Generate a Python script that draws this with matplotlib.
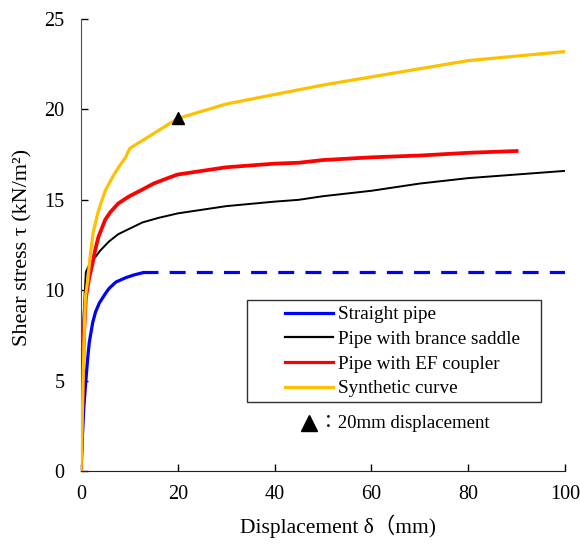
import matplotlib
matplotlib.use('Agg')
import matplotlib.pyplot as plt
from matplotlib.lines import Line2D
from matplotlib.patches import Rectangle

plt.rcParams['font.family'] = ['Liberation Serif', 'Noto Sans CJK JP']

# Straight pipe (measured part, then extrapolated dashed plateau)
straight_x = [0, 0.3, 0.6, 1.0, 1.4, 1.7, 2.4, 3.0, 3.8, 5.0, 5.8, 7.2, 9.3, 11.0, 12.5]
straight_y = [0, 2.0, 3.6, 5.0, 6.3, 7.1, 8.2, 8.8, 9.3, 9.8, 10.1, 10.45, 10.7, 10.85, 10.95]
straight_ext_x = [12.5, 100]
straight_ext_y = [11.0, 11.0]

# Pipe with brance saddle
saddle_x = [0, 0.2, 0.5, 1.0, 1.5, 2.0, 3.0, 4.0, 5.8, 7.7, 10, 12.7, 16, 20, 25, 30, 40, 45, 50,
            60, 70, 80, 90, 100]
saddle_y = [0, 4.0, 8.5, 11.0, 11.3, 11.55, 11.85, 12.2, 12.7, 13.1, 13.4, 13.75, 14.0, 14.25, 14.45,
            14.65, 14.9, 15.0, 15.2, 15.5, 15.9, 16.2, 16.4, 16.6]

# Pipe with EF coupler
ef_x = [0, 0.3, 0.6, 1.0, 1.7, 2.4, 2.9, 3.6, 5.0, 6.0, 7.7, 10, 12.2, 15, 18.4, 20, 25, 30, 40, 45,
        50, 60, 70, 80, 90]
ef_y = [0, 4.0, 7.5, 9.6, 10.7, 11.5, 12.2, 12.95, 13.9, 14.3, 14.8, 15.2, 15.5, 15.9, 16.25, 16.4,
        16.6, 16.8, 17.0, 17.05, 17.2, 17.35, 17.45, 17.6, 17.7]

# Synthetic curve
syn_x = [0, 0.3, 0.6, 0.9, 1.4, 1.9, 2.5, 3.6, 5.0, 6.6, 8.0, 9.1, 10.1, 20, 30, 50, 80, 100]
syn_y = [0, 3.5, 7.0, 9.6, 10.6, 11.9, 13.2, 14.4, 15.5, 16.3, 16.9, 17.3, 17.85, 19.5, 20.3, 21.35,
         22.7, 23.2]

# 20mm displacement marker
mark_x = [20]
mark_y = [19.5]

labels = ['Straight pipe', 'Pipe with brance saddle', 'Pipe with EF coupler', 'Synthetic curve']
colors = ['#0000ff', '#000000', '#ff0000', '#ffc000']

fig = plt.figure(figsize=(5.8, 5.48), dpi=100)
ax = fig.add_axes([0.1397, 0.1405, 0.8345, 0.8248])

ax.plot(straight_x, straight_y, color=colors[0], lw=2.3, zorder=3)
ax.plot(straight_ext_x, straight_ext_y, color=colors[0], lw=2.3, dashes=(5, 3.5), zorder=3)
ax.plot(saddle_x, saddle_y, color=colors[1], lw=1.4, zorder=3)
ax.plot(ef_x, ef_y, color=colors[2], lw=2.7, zorder=3)
ax.plot(syn_x, syn_y, color=colors[3], lw=2.3, zorder=4)
ax.plot(mark_x, mark_y, linestyle='None', marker='^', color='black', markersize=8, zorder=5)

ax.set_xlim(0, 100)
ax.set_ylim(0, 25)
ax.set_xticks([0, 20, 40, 60, 80, 100])
ax.set_yticks([0, 5, 10, 15, 20, 25])

for side in ['top', 'right']:
    ax.spines[side].set_visible(False)
ax.spines['left'].set_color('#505050')
ax.spines['bottom'].set_color('#202020')
ax.tick_params(direction='in', length=5, width=1, labelsize=14.5)
ax.tick_params(axis='y', pad=12)
ax.tick_params(axis='x', pad=10)

ax.set_xlabel('Displacement δ（mm)', fontsize=15.5, va='center')
ax.xaxis.set_label_coords(0.531, -0.122)
ax.set_ylabel('Shear stress τ (kN/m²)', fontsize=16, va='center')
ax.yaxis.set_label_coords(-0.12, 0.4956)

# legend box drawn separately, legend itself without frame
ax.add_patch(Rectangle((0.343, 0.153), 0.607, 0.225, transform=ax.transAxes,
                       facecolor='white', edgecolor='#303030', lw=1.0, zorder=6))
handles = [Line2D([], [], color=c, lw=2.3) for c in colors]
handles[1] = Line2D([], [], color=colors[1], lw=1.6)
leg = ax.legend(handles, labels, loc='upper left', bbox_to_anchor=(0.4215, 0.365),
                frameon=False, fontsize=13.75, borderpad=0, borderaxespad=0,
                handlelength=2.5, handletextpad=0.26, labelspacing=0.38)
leg.set_zorder(7)

ax.plot([0.470], [0.106], transform=ax.transAxes, marker='^', color='black',
        markersize=11, linestyle='None', clip_on=False, zorder=7)
ax.text(0.4917, 0.106, '：20mm displacement', transform=ax.transAxes, fontsize=13.5,
        ha='left', va='center', zorder=7)

plt.savefig('out.png', dpi=100)
